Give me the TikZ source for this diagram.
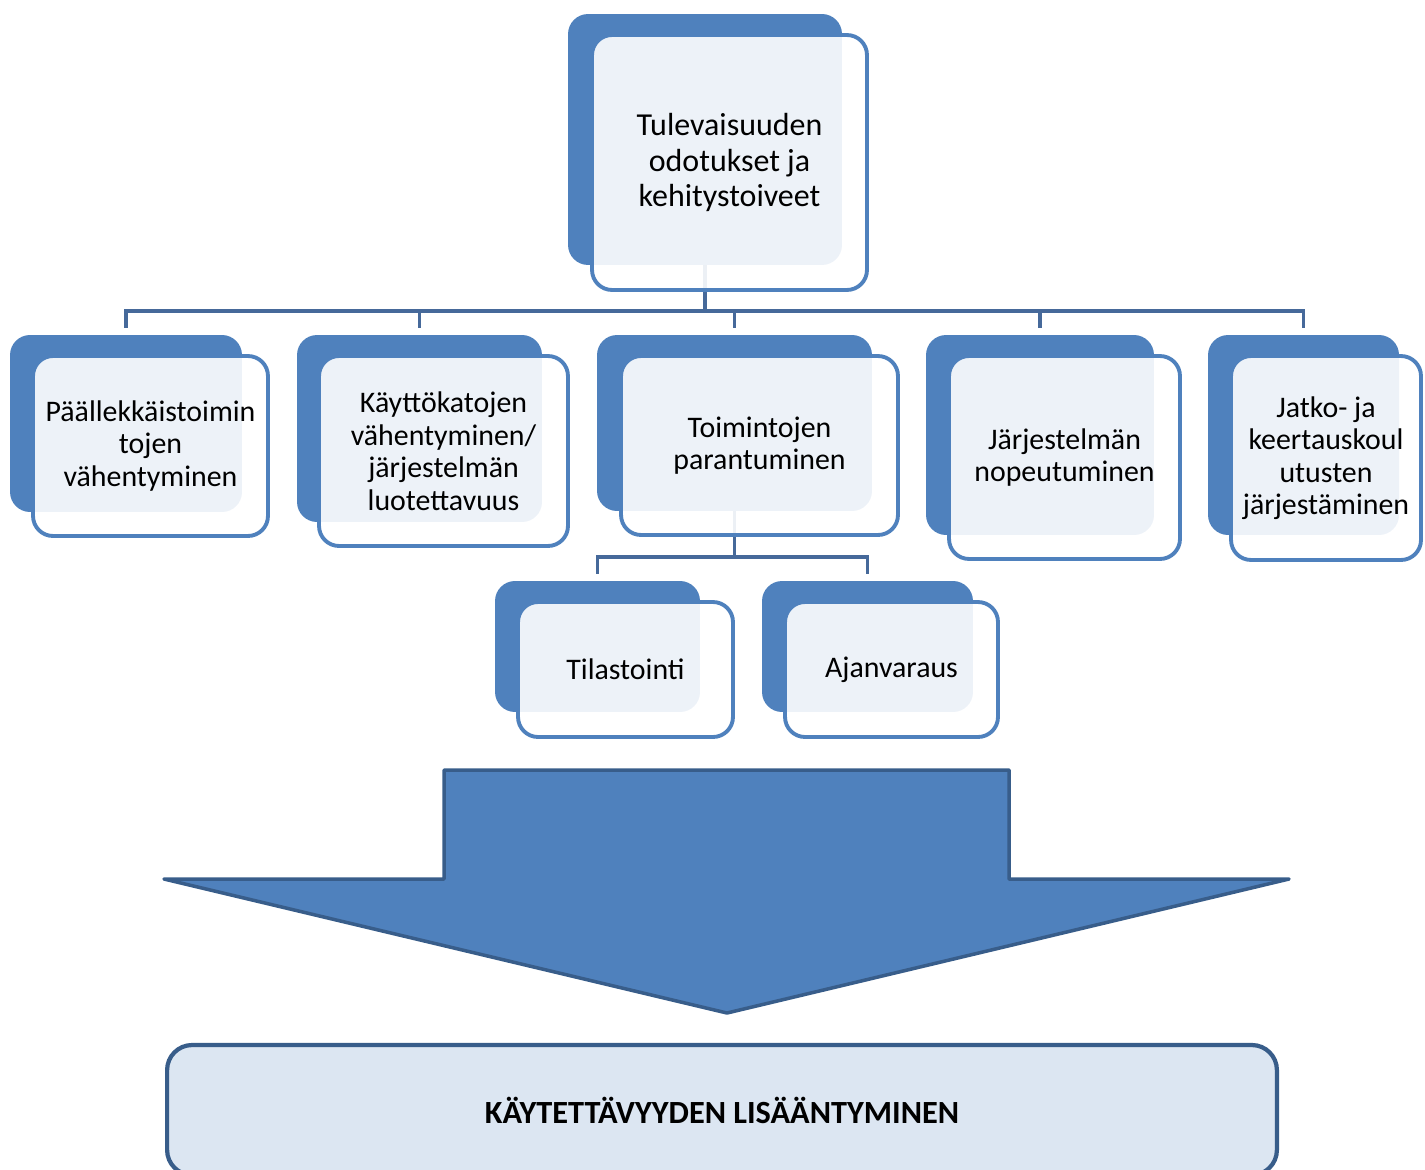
\documentclass[tikz,border=0pt]{standalone}
\usepackage{fontspec}
\setmainfont{Carlito}
\usetikzlibrary{positioning,calc}
\definecolor{accent}{HTML}{4F81BD}
\definecolor{linkblue}{HTML}{46699A}
\definecolor{edgeblue}{HTML}{385D8A}
\definecolor{resfill}{HTML}{DCE6F2}
\begin{document}
\begin{tikzpicture}[x=0.02cm,y=-0.02cm,
back/.style={fill=accent,draw=none,rounded corners=0.4cm,inner sep=0pt,outer sep=0pt},
front/.style={draw=accent,line width=2.2pt,fill=white,fill opacity=0.9,text opacity=1,rounded corners=0.4cm,align=center,inner sep=0pt,outer sep=0pt,font=\fontsize{17}{18.5}\selectfont},
conn/.style={draw=linkblue,line width=2.2pt,shorten >=4pt}]
\useasboundingbox (0,0) rectangle (1425,1169);
% back plates
\node[back,minimum width=5.48cm,minimum height=5.02cm] (tb) at (705,139.5) {};
\node[back,minimum width=4.64cm,minimum height=3.54cm] (b1) at (126,423.5) {};
\node[back,minimum width=4.9cm,minimum height=3.74cm] (b2) at (419.5,428.5) {};
\node[back,minimum width=5.5cm,minimum height=3.52cm] (b3) at (734.5,423) {};
\node[back,minimum width=4.56cm,minimum height=4.0cm] (b4) at (1040,435) {};
\node[back,minimum width=3.82cm,minimum height=4.0cm] (b5) at (1303.5,435) {};
\node[back,minimum width=4.1cm,minimum height=2.62cm] (s1) at (597.5,646.5) {};
\node[back,minimum width=4.22cm,minimum height=2.62cm] (s2) at (867.5,646.5) {};
% connectors
\foreach \c in {b1,b2,b3,b4,b5}
  \draw[conn] (tb.south) -- ++(0,46) -| (\c.north);
\foreach \c in {s1,s2}
  \draw[conn] (b3.south) -- ++(0,46) -| (\c.north);
% front plates
\node[front,minimum width=5.5cm,minimum height=5.1cm,font=\fontsize{18.2}{20.2}\selectfont] (tf) at (729.5,162.5) {Tulevaisuuden\\odotukset ja\\kehitystoiveet};
\node[front,minimum width=4.7cm,minimum height=3.6cm] (f1) at (150.5,446) {Päällekkäistoimin\\tojen\\vähentyminen};
\node[front,minimum width=4.98cm,minimum height=3.8cm] (f2) at (443.5,451) {Käyttökatojen\\vähentyminen/\\järjestelmän\\luotettavuus};
\node[front,minimum width=5.54cm,minimum height=3.58cm] (f3) at (759.5,445.5) {Toimintojen\\parantuminen};
\node[front,minimum width=4.62cm,minimum height=4.06cm] (f4) at (1064.5,457.5) {Järjestelmän\\nopeutuminen};
\node[front,minimum width=3.8cm,minimum height=4.08cm] (f5) at (1326,458) {Jatko- ja\\keertauskoul\\utusten\\järjestäminen};
\node[front,minimum width=4.3cm,minimum height=2.7cm] (g1) at (625.5,669.5) {Tilastointi};
\node[front,minimum width=4.26cm,minimum height=2.7cm] (g2) at (891.5,669.5) {Ajanvaraus};
% big arrow
\draw[fill=accent,draw=edgeblue,line width=2pt,line join=round]
  (444,770) -- (1009,770) -- (1009,879) -- (1289,879) -- (727,1013) -- (164,879) -- (444,879) -- cycle;
% result
\node[draw=edgeblue,line width=2.4pt,fill=resfill,rounded corners=0.5cm,minimum width=22.2cm,minimum height=2.6cm,font=\fontsize{18.4}{21}\selectfont\bfseries] (res) at (722,1110) {KÄYTETTÄVYYDEN LISÄÄNTYMINEN};
\end{tikzpicture}
\end{document}
